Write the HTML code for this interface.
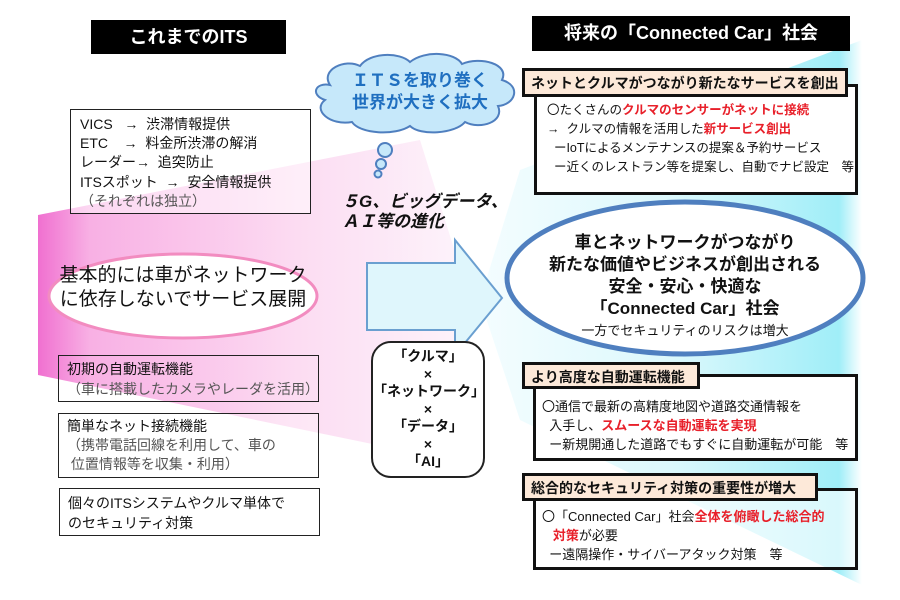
<!DOCTYPE html>
<html><head><meta charset="utf-8"><style>
body{margin:0;width:900px;height:600px;position:relative;background:#fff;overflow:hidden;font-family:"Liberation Sans","Noto Sans CJK JP",sans-serif;color:#111}
.a{position:absolute;white-space:nowrap}
.box{position:absolute;border:1.5px solid #222;box-sizing:border-box;white-space:nowrap}
.hd{position:absolute;background:#fde9d9;border:3px solid #111;box-sizing:border-box;font-weight:bold;font-size:14px;padding:2px 0 0 6px;white-space:nowrap}
.bd{position:absolute;border:3px solid #111;box-sizing:border-box;font-size:12.5px;line-height:19px;white-space:nowrap}
.r{color:#e8202a;font-weight:bold}
</style></head><body>
<svg width="900" height="600" style="position:absolute;left:0;top:0">
<defs>
<linearGradient id="pk" x1="0" x2="1" y1="0" y2="0"><stop offset="0" stop-color="#f070d0"/><stop offset="0.12" stop-color="#f8b0e4"/><stop offset="0.6" stop-color="#fcdcf2"/><stop offset="1" stop-color="#fdf4fb"/></linearGradient>
<linearGradient id="cy" x1="1" x2="0" y1="0" y2="0"><stop offset="0" stop-color="#ffffff"/><stop offset="0.06" stop-color="#a0eef8"/><stop offset="0.5" stop-color="#dcf8fc"/><stop offset="1" stop-color="#f4fdff"/></linearGradient>
</defs>
<path d="M38,215 L420,140 L470,300 L450,460 L38,375 Z" fill="url(#pk)"/>
<path d="M862,40 L520,170 L480,300 L520,420 L862,585 Z" fill="url(#cy)"/>
<ellipse cx="183" cy="296" rx="134" ry="42" fill="#fff" stroke="#f28cc0" stroke-width="3"/>
<ellipse cx="685" cy="278" rx="178" ry="76" fill="#fff" stroke="#4f7fbf" stroke-width="5"/>
<polygon points="367,263 455,263 455,240 502,298 455,355 455,330 367,330" fill="#dff6fc" stroke="#6a9fd0" stroke-width="2"/>
<path d="M330,85 C320,70 345,58 360,66 C370,52 400,52 410,62 C425,50 455,52 462,64 C480,56 510,64 502,80 C522,86 515,105 498,106 C505,122 480,130 465,122 C455,134 420,136 410,126 C395,136 360,134 352,122 C330,126 312,110 325,100 C310,95 315,82 330,85 Z" fill="#c6e8fa" stroke="#4f7fbf" stroke-width="2"/>
<circle cx="385" cy="150" r="7" fill="#c6e8fa" stroke="#4f7fbf" stroke-width="2"/>
<circle cx="381" cy="164" r="5" fill="#c6e8fa" stroke="#4f7fbf" stroke-width="2"/>
<circle cx="378" cy="174" r="3.5" fill="#c6e8fa" stroke="#4f7fbf" stroke-width="2"/>
</svg>
<div class="a" style="left:91px;top:20px;width:195px;height:34px;background:#000;color:#fff;font-weight:bold;font-size:18px;line-height:34px;text-align:center">これまでのITS</div>
<div class="a" style="left:532px;top:16px;width:318px;height:35px;background:#000;color:#fff;font-weight:bold;font-size:18px;line-height:35px;text-align:center">将来の「Connected Car」社会</div>
<div class="box" style="left:70px;top:109px;width:241px;height:105px;font-size:14px;line-height:19.2px;padding:5px 0 0 9px;background:rgba(255,255,255,0.5)">VICS &nbsp;&nbsp;→ &nbsp;渋滞情報提供<br>ETC &nbsp;&nbsp;&nbsp;→ &nbsp;料金所渋滞の解消<br>レーダー→ &nbsp;追突防止<br>ITSスポット &nbsp;→ &nbsp;安全情報提供<br><span style="color:#555">（それぞれは独立）</span></div>
<div class="a" style="left:50px;top:264px;width:266px;text-align:center;font-size:19px;line-height:24px">基本的には車がネットワーク<br>に依存しないでサービス展開</div>
<div class="a" style="left:330px;top:70px;width:180px;text-align:center;color:#1f6fc0;font-weight:bold;font-size:17px;line-height:22px">ＩＴＳを取り巻く<br>世界が大きく拡大</div>
<div class="a" style="left:342px;top:192px;font-weight:bold;font-style:italic;font-size:17px;line-height:20px">５G、ビッグデータ、<br>ＡＩ等の進化</div>
<div class="box" style="left:58px;top:355px;width:261px;height:47px;font-size:14px;line-height:20px;padding:3px 0 0 8px">初期の自動運転機能<br><span style="color:#555">（車に搭載したカメラやレーダを活用）</span></div>
<div class="box" style="left:58px;top:413px;width:261px;height:65px;font-size:14px;line-height:19px;padding:3px 0 0 8px;background:rgba(255,255,255,0.3)">簡単なネット接続機能<br><span style="color:#555">（携帯電話回線を利用して、車の<br>&nbsp;位置情報等を収集・利用）</span></div>
<div class="box" style="left:59px;top:488px;width:261px;height:48px;font-size:14px;line-height:20px;padding:4px 0 0 8px">個々のITSシステムやクルマ単体で<br>のセキュリティ対策</div>
<div class="a" style="left:371px;top:341px;width:114px;height:137px;border:2px solid #222;border-radius:20px;box-sizing:border-box;background:#fff;text-align:center;font-weight:bold;font-size:14px;line-height:17.5px;padding-top:5px">「クルマ」<br>×<br>「ネットワーク」<br>×<br>「データ」<br>×<br>「AI」</div>
<div class="bd" style="left:534px;top:84px;width:324px;height:111px;background:#fff;padding:14px 0 0 10px">〇たくさんの<span class="r">クルマのセンサーがネットに接続</span><br>→ &nbsp;クルマの情報を活用した<span class="r">新サービス創出</span><br>&nbsp;&nbsp;ーIoTによるメンテナンスの提案＆予約サービス<br>&nbsp;&nbsp;ー近くのレストラン等を提案し、自動でナビ設定　等</div>
<div class="hd" style="left:522px;top:68px;width:326px;height:29px">ネットとクルマがつながり新たなサービスを創出</div>
<div class="a" style="left:507px;top:232px;width:356px;text-align:center;font-weight:bold;font-size:17px;line-height:22px">車とネットワークがつながり<br>新たな価値やビジネスが創出される<br>安全・安心・快適な<br>「Connected Car」社会</div>
<div class="a" style="left:507px;top:320px;width:356px;text-align:center;font-size:13px">一方でセキュリティのリスクは増大</div>
<div class="bd" style="left:533px;top:374px;width:325px;height:87px;background:#fff;padding:20px 0 0 6px;font-size:13px">〇通信で最新の高精度地図や道路交通情報を<br>&nbsp;&nbsp;入手し、<span class="r">スムースな自動運転を実現</span><br>&nbsp;&nbsp;ー新規開通した道路でもすぐに自動運転が可能　等</div>
<div class="hd" style="left:522px;top:362px;width:178px;height:27px">より高度な自動運転機能</div>
<div class="bd" style="left:533px;top:488px;width:325px;height:82px;background:rgba(255,255,255,0.6);padding:16px 0 0 6px;font-size:13px">〇「Connected Car」社会<span class="r">全体を俯瞰した総合的</span><br>&nbsp;&nbsp;&nbsp;<span class="r">対策</span>が必要<br>&nbsp;&nbsp;ー遠隔操作・サイバーアタック対策　等</div>
<div class="hd" style="left:522px;top:473px;width:296px;height:28px">総合的なセキュリティ対策の重要性が増大</div>
</body></html>
